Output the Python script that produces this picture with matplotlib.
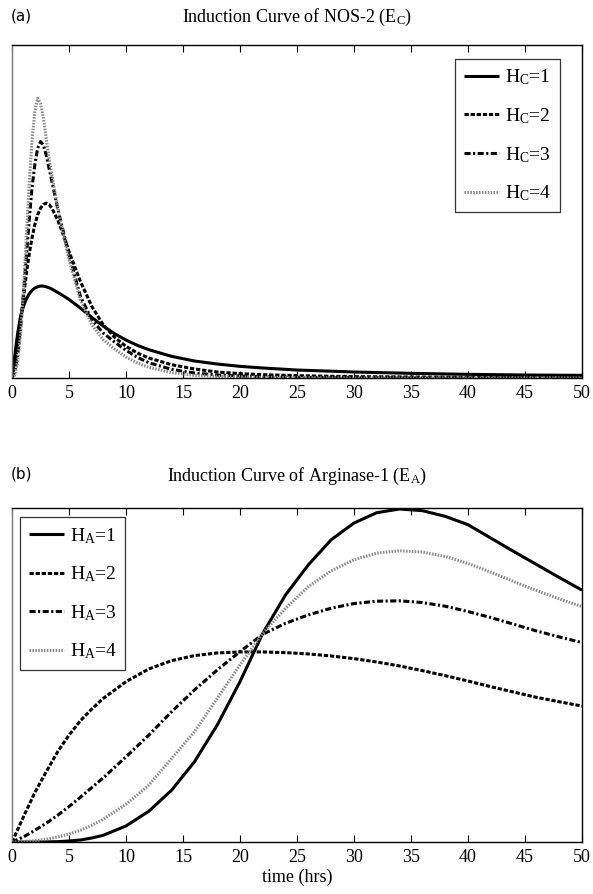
import matplotlib
matplotlib.use("Agg")
import matplotlib.pyplot as plt

plt.rcParams['font.family'] = ['Liberation Serif', 'DejaVu Serif']
plt.rcParams['mathtext.fontset'] = 'custom'
plt.rcParams['mathtext.rm'] = 'Liberation Serif'
plt.rcParams['mathtext.it'] = 'Liberation Serif:italic'

# ---------------- Panel (a): NOS-2 induction ----------------
t_a = [0, 0.25, 0.5, 0.75, 1.0, 1.25, 1.5, 1.75, 2.0, 2.25, 2.5, 2.75, 3.0, 3.25, 3.5,
       4.0, 4.5, 5.0, 6.0, 7.0, 8.0, 9.0, 10.0, 11.0, 12.0, 14.0, 16.0, 18.0, 20.0,
       22.0, 25.0, 30.0, 35.0, 40.0, 45.0, 50.0]
ec_h1 = [0, 0.07, 0.135, 0.185, 0.215, 0.237, 0.252, 0.263, 0.27, 0.274, 0.276, 0.276,
         0.274, 0.271, 0.267, 0.257, 0.247, 0.236, 0.21, 0.182, 0.156, 0.133, 0.114,
         0.098, 0.085, 0.065, 0.051, 0.042, 0.035, 0.030, 0.024, 0.018, 0.014, 0.011,
         0.009, 0.008]
ec_h2 = [0, 0.04, 0.10, 0.17, 0.24, 0.31, 0.37, 0.42, 0.46, 0.49, 0.51, 0.521, 0.525,
         0.521, 0.51, 0.475, 0.43, 0.38, 0.29, 0.215, 0.16, 0.122, 0.095, 0.075, 0.06,
         0.04, 0.027, 0.018, 0.013, 0.01, 0.007, 0.004, 0.003, 0.002, 0.0015, 0.001]
ec_h3 = [0, 0.02, 0.07, 0.15, 0.25, 0.36, 0.47, 0.57, 0.64, 0.69, 0.71, 0.70, 0.67,
         0.63, 0.59, 0.51, 0.44, 0.37, 0.245, 0.175, 0.135, 0.108, 0.083, 0.062, 0.046,
         0.026, 0.015, 0.009, 0.006, 0.004, 0.002, 0.001, 0.0, 0.0, 0.0, 0.0]
ec_h4 = [0, 0.01, 0.05, 0.13, 0.26, 0.42, 0.58, 0.71, 0.80, 0.84, 0.825, 0.78, 0.72,
         0.66, 0.61, 0.515, 0.43, 0.355, 0.235, 0.16, 0.115, 0.087, 0.063, 0.045, 0.032,
         0.016, 0.008, 0.005, 0.003, 0.002, 0.001, 0.0, 0.0, 0.0, 0.0, 0.0]

# ---------------- Panel (b): Arginase-1 induction ----------------
t_b = [0, 1, 2, 3, 4, 5, 6, 7, 8, 10, 12, 14, 16, 18, 20, 22, 24, 26, 28, 30, 32, 34,
       36, 38, 40, 42, 44, 46, 48, 50]
ea_h1 = [0, 0.0, 0.0, 0.0005, 0.001, 0.003, 0.006, 0.012, 0.02, 0.048, 0.092, 0.155,
         0.24, 0.35, 0.48, 0.625, 0.74, 0.83, 0.905, 0.955, 0.986, 0.997, 0.992, 0.975,
         0.95, 0.91, 0.87, 0.831, 0.792, 0.754]
ea_h2 = [0, 0.075, 0.148, 0.21, 0.27, 0.32, 0.363, 0.398, 0.43, 0.48, 0.518, 0.543,
         0.558, 0.566, 0.569, 0.569, 0.567, 0.563, 0.557, 0.549, 0.539, 0.527, 0.513,
         0.498, 0.482, 0.465, 0.449, 0.433, 0.42, 0.407]
ea_h3 = [0, 0.015, 0.035, 0.056, 0.08, 0.106, 0.134, 0.163, 0.192, 0.255, 0.32, 0.39,
         0.455, 0.515, 0.57, 0.622, 0.655, 0.68, 0.7, 0.714, 0.721, 0.722, 0.717,
         0.706, 0.69, 0.672, 0.652, 0.632, 0.614, 0.597]
ea_h4 = [0, 0.001, 0.004, 0.008, 0.015, 0.024, 0.035, 0.05, 0.068, 0.113, 0.17, 0.25,
         0.33, 0.43, 0.53, 0.625, 0.7, 0.765, 0.812, 0.845, 0.865, 0.872, 0.868, 0.855,
         0.834, 0.808, 0.78, 0.753, 0.728, 0.705]

xticks = [0, 5, 10, 15, 20, 25, 30, 35, 40, 45, 50]

styles = [
    dict(color='black', lw=2.2, ls='-'),
    dict(color='black', lw=2.2, dashes=(1.4, 0.6)),
    dict(color='black', lw=2.2, dashes=(2.0, 0.8, 0.7, 0.8)),
    dict(color='#8a8a8a', lw=2.2, dashes=(0.5, 0.45)),
]

fig = plt.figure(figsize=(5.93, 8.94), dpi=100)
W, H = 593.0, 894.0
ax1 = fig.add_axes([12 / W, 1 - 378 / H, 570 / W, 333 / H])
ax2 = fig.add_axes([12 / W, 1 - 842 / H, 570 / W, 334 / H])

for ax, t, series, sub in [(ax1, t_a, [ec_h1, ec_h2, ec_h3, ec_h4], 'C'),
                           (ax2, t_b, [ea_h1, ea_h2, ea_h3, ea_h4], 'A')]:
    for i, (y, st) in enumerate(zip(series, styles)):
        ax.plot(t, y, label=r'H$_{\rm %s}$=%d' % (sub, i + 1),
                solid_capstyle='butt', dash_capstyle='butt',
                solid_joinstyle='round', **st)
    ax.set_xlim(0, 50)
    ax.set_ylim(0, 1.0)
    ax.set_xticks(xticks)
    ax.set_xticklabels([str(v) for v in xticks], fontsize=13)
    ax.set_yticks([])
    ax.tick_params(axis='x', direction='in', length=5, width=0.8, top=True,
                   pad=5, colors='black')
    for s in ax.spines.values():
        s.set_linewidth(1.0)
        s.set_color('black')
    ax.spines['left'].set_color('#777777')

leg_kw = dict(fontsize=14, frameon=True, fancybox=False, edgecolor='black',
              handlelength=1.8, handletextpad=0.3, labelspacing=0.97,
              borderpad=0.45, borderaxespad=0.0)
leg1 = ax1.legend(loc='upper right', bbox_to_anchor=(0.9614, 0.958), **leg_kw)
leg1.get_frame().set_linewidth(0.9)
leg2 = ax2.legend(loc='upper left', bbox_to_anchor=(0.014, 0.972), **leg_kw)
leg2.get_frame().set_linewidth(0.9)

fig.text(297 / W, 1 - 17 / H, r'Induction Curve of NOS-2 (E$_{\rm C}$)', ha='center',
         va='center', fontsize=13)
fig.text(297 / W, 1 - 476 / H, r'Induction Curve of Arginase-1 (E$_{\rm A}$)',
         ha='center', va='center', fontsize=13)
fig.text(11 / W, 1 - 16 / H, '(a)', ha='left', va='center', fontsize=11,
         family='DejaVu Sans')
fig.text(11 / W, 1 - 474 / H, '(b)', ha='left', va='center', fontsize=11,
         family='DejaVu Sans')
ax2.set_xlabel('time (hrs)', fontsize=13, labelpad=2)

fig.savefig('out.png', dpi=100)
